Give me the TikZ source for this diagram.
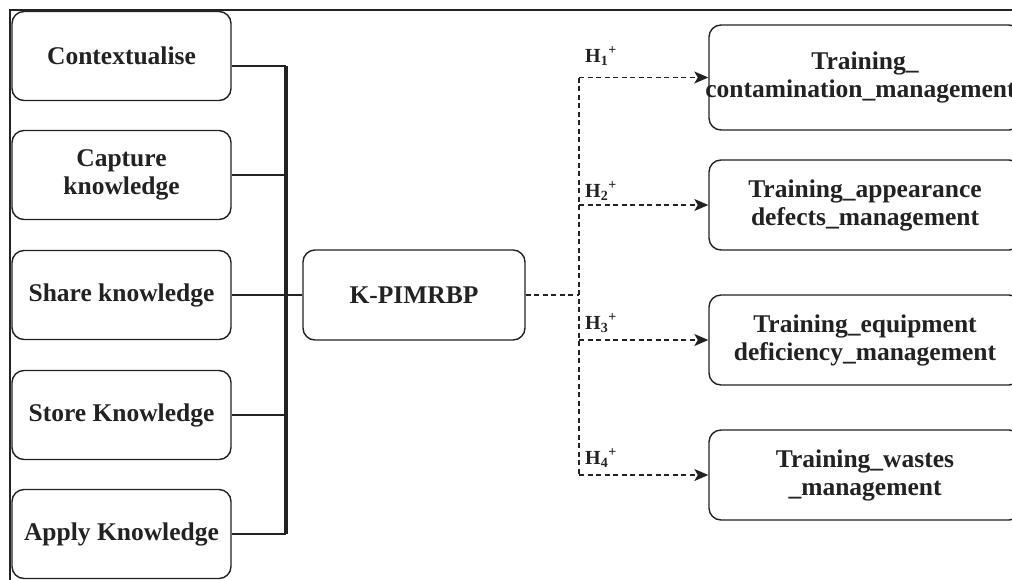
\documentclass[tikz,border=0pt]{standalone}
\usepackage{fontspec}
\setmainfont{Liberation Serif}
\usetikzlibrary{arrows.meta}
\definecolor{ink}{HTML}{222222}
\begin{document}
\begin{tikzpicture}[x=1pt,y=-1pt,
  box/.style={draw=ink, line width=1.4pt, rounded corners=12pt, align=center,
    font=\fontsize{25.5}{28}\selectfont\bfseries, text=ink, inner sep=0pt},
  leftbox/.style={box, minimum width=219pt, minimum height=89pt},
  rightbox/.style={box, minimum width=312pt, minimum height=90pt},
  feed/.style={draw=ink, line width=2.6pt},
  busline/.style={draw=ink, line width=3.4pt},
  hyp/.style={draw=ink, line width=1.3pt, dash pattern=on 5pt off 3.5pt},
  hyparrow/.style={hyp, -{Stealth[length=14pt,width=12pt,inset=3.5pt]}},
  hlabel/.style={anchor=base west, inner sep=0pt, text=ink,
    font=\fontsize{20}{22}\selectfont\bfseries}
]
\useasboundingbox (0,0) rectangle (1012,579);
\fill[white] (0,0) rectangle (1012,579);
\clip (0,0) rectangle (1012,579);

% frame
\draw[ink, line width=2pt] (1020,9.5) -- (9.5,9.5) -- (9.5,590);

% knowledge process boxes
\node[leftbox] (ctx)   at (121.5,56)  {Contextualise};
\node[leftbox] (cap)   at (121.5,175) {Capture\\knowledge};
\node[leftbox] (share) at (121.5,295) {Share knowledge};
\node[leftbox] (store) at (121.5,415) {Store Knowledge};
\node[leftbox] (apply) at (121.5,534) {Apply Knowledge};

% central construct
\node[box, minimum width=222pt, minimum height=90pt] (kp) at (414,295) {K-PIMRBP};

% training outcomes
\node[rightbox, minimum height=105pt] (t1) at (865,77.5) {Training\_\\\hspace*{-9pt}contamination\_management};
\node[rightbox] (t2) at (865,205) {Training\_appearance\\defects\_management};
\node[rightbox] (t3) at (865,340) {Training\_equipment\\deficiency\_management};
\node[rightbox] (t4) at (865,475) {Training\_wastes\\\_management};

% solid bus joining the processes
\coordinate (bus) at (286,295);
\coordinate (ctxout) at ([yshift=-10pt]ctx.east);
\draw[feed] (ctxout) -- (ctxout -| bus);
\draw[feed] (cap.east) -- (cap.east -| bus);
\draw[feed] (share.east) -- (kp.west);
\draw[feed] (store.east) -- (store.east -| bus);
\draw[feed] (apply.east) -- (apply.east -| bus);
\draw[busline] (ctxout -| bus) -- (apply.east -| bus);

% dashed hypothesis paths
\coordinate (split) at (579,295);
\draw[hyp] (kp.east) -- (split);
\draw[hyp] (t1.west -| split) -- (t4.west -| split);
\draw[hyparrow] (t1.west -| split) -- (t1.west);
\draw[hyparrow] (t2.west -| split) -- (t2.west);
\draw[hyparrow] (t3.west -| split) -- (t3.west);
\draw[hyparrow] (t4.west -| split) -- (t4.west);

\node[hlabel] (h1) at ([xshift=6pt,yshift=15pt]t1.west -| split) {H\textsubscript{1}\textsuperscript{+}};
\node[hlabel] (h2) at ([xshift=6pt,yshift=8pt]t2.west -| split) {H\textsubscript{2}\textsuperscript{+}};
\node[hlabel] (h3) at ([xshift=6pt,yshift=11pt]t3.west -| split) {H\textsubscript{3}\textsuperscript{+}};
\node[hlabel] (h4) at ([xshift=6pt,yshift=11pt]t4.west -| split) {H\textsubscript{4}\textsuperscript{+}};
\end{tikzpicture}
\end{document}
